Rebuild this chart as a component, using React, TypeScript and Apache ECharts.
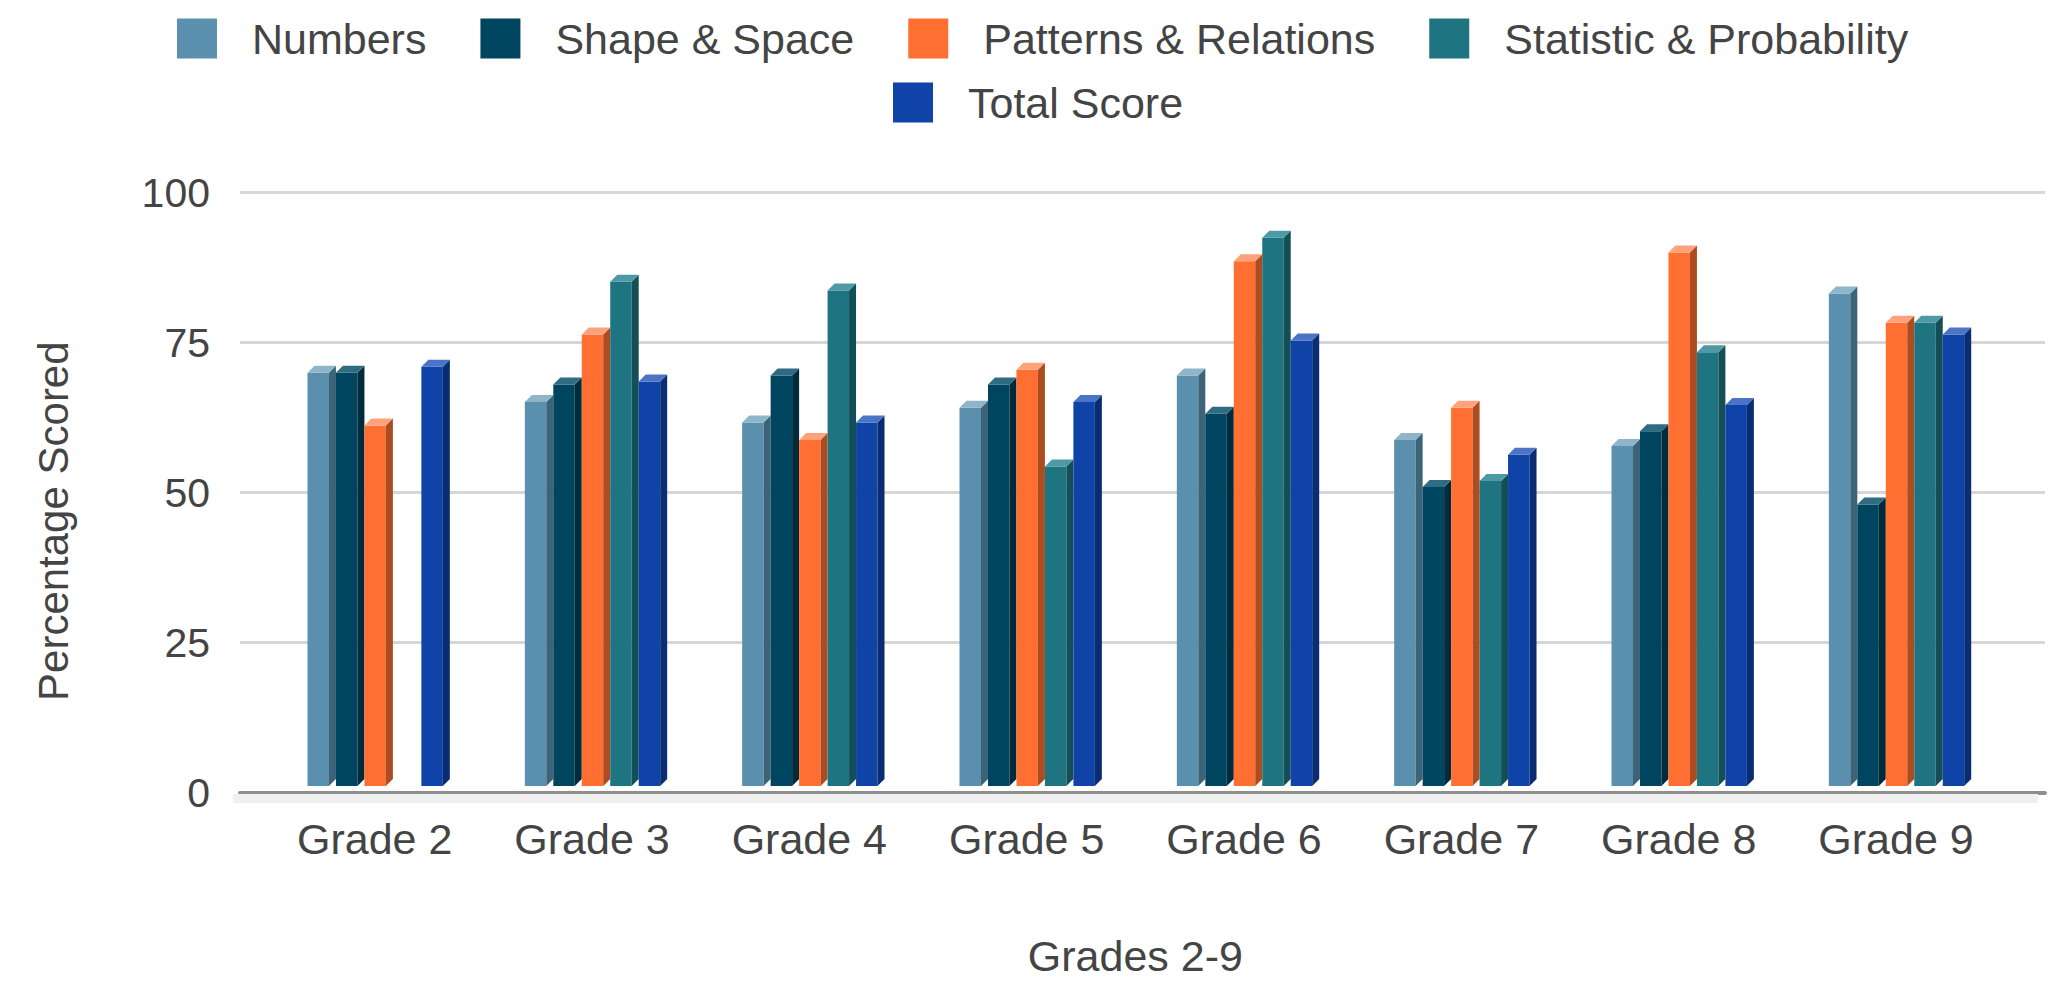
import React, { useEffect, useRef } from "react";
import * as echarts from "echarts";

// Grade groups along the horizontal axis
const CATEGORIES = ["Grade 2", "Grade 3", "Grade 4", "Grade 5", "Grade 6", "Grade 7", "Grade 8", "Grade 9"];

// Percentage scored per strand (null = no result for that grade)
const NUMBERS = [70.5, 65.5, 62, 64.5, 70, 59, 58, 84];
const SHAPE_SPACE = [70.5, 68.5, 70, 68.5, 63.5, 51, 60.5, 48];
const PATTERNS_RELATIONS = [61.5, 77, 59, 71, 89.5, 64.5, 91, 79];
const STATISTIC_PROBABILITY = [null, 86, 84.5, 54.5, 93.5, 52, 74, 79];
const TOTAL_SCORE = [71.5, 69, 62, 65.5, 76, 56.5, 65, 77];

const SERIES_NAMES = ["Numbers", "Shape & Space", "Patterns & Relations", "Statistic & Probability", "Total Score"];
const SERIES_VALUES = [NUMBERS, SHAPE_SPACE, PATTERNS_RELATIONS, STATISTIC_PROBABILITY, TOTAL_SCORE];

// Y-axis ticks
const Y_MIN = 0;
const Y_MAX = 100;
const Y_STEP = 25;

// Face colours for the extruded bars: front, right side, top
const FRONT = ["#5a8fae", "#00455f", "#ff6f31", "#1e7581", "#0f43a8"];
const SIDE = ["#3c6377", "#002b3c", "#ad4b21", "#144f58", "#0a2c72"];
const TOP = ["#8fb5ca", "#2f6c84", "#ffa27c", "#4e9aa4", "#4c74c6"];

const FONT = "'Liberation Sans', Arial, Helvetica, sans-serif";
const TEXT_COLOR = "#444444";

const DEPTH = 7;

function renderBar(params: any, api: any) {
  const s = params.seriesIndex;
  const cat = api.value(0);
  const v = api.value(1);
  if (v == null || isNaN(v)) return null;
  const [cx, yv] = api.coord([cat, v]);
  const y0 = api.coord([cat, 0])[1];
  const band = api.size([1, 0])[0];
  const slot = band * 0.131;
  const w = slot - DEPTH;
  const x0 = cx + (s - 2.5) * slot + 4;
  return {
    type: "group",
    children: [
      {
        type: "rect",
        shape: { x: x0, y: yv + DEPTH, width: w, height: y0 - yv },
        style: { fill: FRONT[s] },
      },
      {
        type: "polygon",
        shape: {
          points: [
            [x0 + w, yv + DEPTH],
            [x0 + w + DEPTH, yv],
            [x0 + w + DEPTH, y0],
            [x0 + w, y0 + DEPTH],
          ],
        },
        style: { fill: SIDE[s] },
      },
      {
        type: "polygon",
        shape: {
          points: [
            [x0, yv + DEPTH],
            [x0 + DEPTH, yv],
            [x0 + w + DEPTH, yv],
            [x0 + w, yv + DEPTH],
          ],
        },
        style: { fill: TOP[s] },
      },
    ],
  };
}

export default function App() {
  const ref = useRef<HTMLDivElement>(null);

  useEffect(() => {
    if (!ref.current) return;
    const chart = echarts.init(ref.current, null, { renderer: "svg" });

    const legendText = {
      fontFamily: FONT,
      fontSize: 43,
      lineHeight: 40,
      color: TEXT_COLOR,
      padding: [0, 0, 0, 30],
    };

    const series = SERIES_NAMES.map((name, s) => ({
      type: "custom",
      name,
      xAxisIndex: 1,
      yAxisIndex: 1,
      z: 3,
      itemStyle: { color: FRONT[s] },
      encode: { x: 0, y: 1 },
      data: SERIES_VALUES[s]
        .map((v, i) => (v == null ? null : [i, v]))
        .filter((d) => d !== null),
      renderItem: renderBar,
    }));

    chart.setOption({
      animation: false,
      backgroundColor: "#ffffff",
      textStyle: { fontFamily: FONT },
      legend: [
        {
          data: SERIES_NAMES.slice(0, 4),
          left: 172,
          top: 12,
          icon: "rect",
          itemWidth: 40,
          itemHeight: 40,
          itemGap: 54,
          selectedMode: false,
          textStyle: legendText,
        },
        {
          data: SERIES_NAMES.slice(4),
          left: 888,
          top: 76,
          icon: "rect",
          itemWidth: 40,
          itemHeight: 40,
          itemGap: 54,
          selectedMode: false,
          textStyle: legendText,
        },
      ],
      grid: [
        { left: 240, right: 10, top: 192.7, bottom: 189.3 },
        { left: 266, right: 50.3, top: 192.7, bottom: 189.3 },
      ],
      xAxis: [
        {
          gridIndex: 0,
          type: "value",
          min: 0,
          max: 1,
          axisLine: { show: true, lineStyle: { color: "#8e8e8e", width: 4 } },
          axisTick: { show: false },
          axisLabel: { show: false },
          splitLine: { show: false },
        },
        {
          gridIndex: 1,
          type: "category",
          data: CATEGORIES,
          name: "Grades 2-9",
          nameLocation: "middle",
          nameGap: 155,
          nameTextStyle: { fontFamily: FONT, fontSize: 43, color: TEXT_COLOR },
          axisLine: { show: false },
          axisTick: { show: false },
          splitLine: { show: false },
          axisLabel: {
            margin: 38,
            fontFamily: FONT,
            fontSize: 43,
            color: TEXT_COLOR,
          },
        },
      ],
      yAxis: [
        {
          gridIndex: 0,
          type: "value",
          min: Y_MIN,
          max: Y_MAX,
          interval: Y_STEP,
          name: "Percentage Scored",
          nameLocation: "middle",
          nameGap: 166,
          nameTextStyle: {
            fontFamily: FONT,
            fontSize: 42,
            color: TEXT_COLOR,
            padding: [0, 57, 0, 0],
          },
          axisLine: { show: false },
          axisTick: { show: false },
          axisLabel: { margin: 30, fontFamily: FONT, fontSize: 41, color: TEXT_COLOR },
          splitLine: { show: true, lineStyle: { color: "#d6d6d6", width: 3 } },
        },
        {
          gridIndex: 1,
          type: "value",
          min: Y_MIN,
          max: Y_MAX,
          interval: Y_STEP,
          show: false,
          splitLine: { show: false },
        },
      ],
      graphic: [
        {
          type: "rect",
          z: 1,
          silent: true,
          shape: { x: 233, y: 794, width: 1805, height: 9 },
          style: { fill: "#f0f0f0" },
        },
      ],
      series,
    });

    return () => chart.dispose();
  }, []);

  return (
    <div
      ref={ref}
      style={{ position: "fixed", left: 0, top: 0, width: 2055, height: 982, background: "#fff" }}
    />
  );
}
